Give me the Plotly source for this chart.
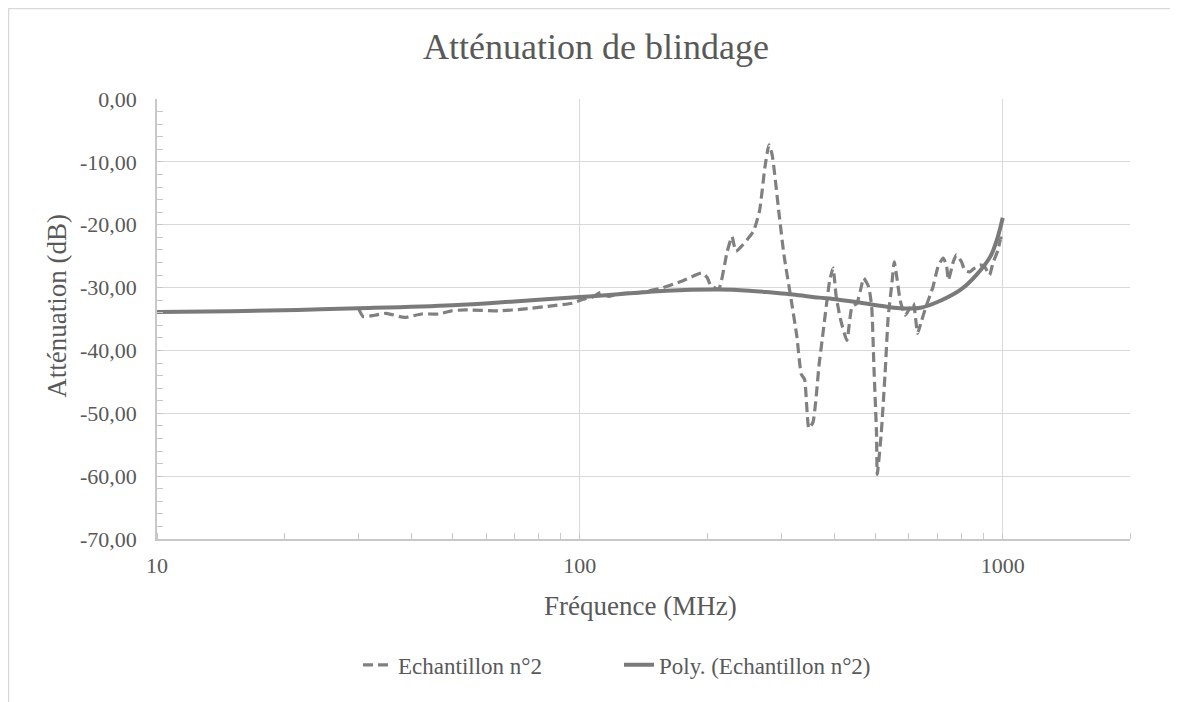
import plotly.graph_objects as go

# Measured series (Echantillon n°2)
freq_meas = [30.0, 30.7, 32.7, 34.8, 38.5, 42.2, 46.3, 49.7, 53.5, 64.2, 74.3, 85.9, 95.9,
             101.3, 107, 112, 117, 123, 138, 153.6, 174, 194, 200, 204, 213, 223, 229, 234,
             257, 266, 274, 280, 285, 296, 304, 316, 326, 334, 340, 348, 356, 368, 374, 390,
             397, 404, 414, 428, 440, 452, 461, 469, 482, 490, 496, 503, 505, 516, 527, 536,
             547, 554, 563, 572, 588, 605, 615, 629, 640, 658, 684, 703, 723, 736, 744, 764,
             777, 799, 813, 835, 858, 882, 906, 931, 948, 975, 990, 1000]
att_meas = [-33.4, -34.6, -34.4, -34.1, -34.75, -34.2, -34.2, -33.7, -33.55, -33.7, -33.4, -32.9, -32.5,
            -31.9, -31.5, -30.8, -31.4, -31.0, -30.8, -30.2, -29.0, -27.7, -28.4, -29.7, -30.2, -24.3, -21.9, -24.2,
            -21.1, -17.8, -10.8, -7.3, -8.9, -18.4, -24.9, -31.9, -37.8, -43.8, -44.6, -52.4, -51.4, -42.2, -38.4, -28.8,
            -26.9, -31.5, -35.2, -38.4, -33.1, -32.5, -30.4, -28.5, -29.9, -33.1, -42.7, -53.3, -59.7, -53.3, -43.7, -34.7,
            -29.3, -25.9, -28.8, -32.0, -34.4, -33.1, -32.5, -37.3, -35.7, -33.1, -29.9, -26.7, -25.3, -26.4, -28.8, -25.9,
            -24.8, -25.9, -27.2, -27.5, -26.9, -26.4, -26.7, -28.0, -26.1, -24.0, -22.1, -22.9]

# Polynomial trend line (Poly. (Echantillon n°2))
freq_poly = [10, 15, 21.5, 30, 50, 70, 100, 110.7, 160, 213, 252, 285, 319, 368, 397, 450,
             513, 572, 640, 712, 797, 869, 936, 973, 1000]
att_poly = [-33.9, -33.75, -33.55, -33.3, -32.8, -32.2, -31.5, -31.3, -30.5, -30.3, -30.5, -30.8, -31.1,
            -31.6, -31.8, -32.3, -32.9, -33.3, -33.2, -32.1, -30.3, -27.9, -25.0, -22.0, -18.9]

y_tickvals = [0, -10, -20, -30, -40, -50, -60, -70]
y_ticktext = ["0,00", "-10,00", "-20,00", "-30,00", "-40,00", "-50,00", "-60,00", "-70,00"]
x_tickvals = [10, 100, 1000]
x_ticktext = ["10", "100", "1000"]

FONT = "Liberation Serif, Times New Roman, DejaVu Serif, serif"
TXT = "#595959"
GRID = "#d9d9d9"
AXIS = "#c8c8c8"
LINE = "#808080"

fig = go.Figure()
fig.add_trace(go.Scatter(
    x=freq_meas, y=att_meas, mode="lines", name="Echantillon n°2",
    line=dict(color=LINE, width=3.2, dash="10px,5px", shape="spline", smoothing=0.5),
))
fig.add_trace(go.Scatter(
    x=freq_poly, y=att_poly, mode="lines", name="Poly. (Echantillon n°2)",
    line=dict(color="#7a7a7a", width=4, shape="spline", smoothing=1.0),
))

fig.update_layout(
    width=1178, height=702,
    paper_bgcolor="white", plot_bgcolor="white",
    margin=dict(l=149, r=56, t=91, b=171),
    font=dict(family=FONT, color=TXT, size=22),
    showlegend=True,
    legend=dict(orientation="h", x=0.2066, xanchor="left", y=-0.286, yanchor="middle",
                font=dict(family=FONT, size=23, color=TXT), entrywidth=216,
                bgcolor="rgba(0,0,0,0)", borderwidth=0),
    shapes=[dict(type="rect", xref="paper", yref="paper",
                 x0=-0.1526, x1=1.1, y0=-0.5, y1=1.2057,
                 line=dict(color=GRID, width=1.5), fillcolor="rgba(0,0,0,0)", layer="below")],
    annotations=[
        dict(text="Atténuation de blindage", xref="paper", yref="paper", x=0.4512, y=1.118,
             xanchor="center", yanchor="middle", showarrow=False,
             font=dict(family=FONT, size=36, color=TXT)),
        dict(text="Fréquence (MHz)", xref="paper", yref="paper", x=0.4974, y=-0.152,
             xanchor="center", yanchor="middle", showarrow=False,
             font=dict(family=FONT, size=27, color=TXT)),
        dict(text="Atténuation (dB)", xref="paper", yref="paper", x=-0.1028, y=0.53,
             xanchor="center", yanchor="middle", showarrow=False, textangle=-90,
             font=dict(family=FONT, size=27, color=TXT)),
    ],
)

fig.update_xaxes(
    type="log", range=[1, 3.30103],
    tickvals=x_tickvals, ticktext=x_ticktext,
    showgrid=True, gridcolor=GRID, gridwidth=1.2,
    showline=True, linecolor=AXIS, linewidth=1.5,
    ticks="", ticklabelstandoff=6, tickfont=dict(family=FONT, size=22, color=TXT),
    minor=dict(dtick="D1", ticks="inside", ticklen=6, tickcolor=AXIS, showgrid=False),
    zeroline=False,
)
fig.update_yaxes(
    range=[-70, 0],
    tickvals=y_tickvals, ticktext=y_ticktext,
    showgrid=True, gridcolor=GRID, gridwidth=1.2,
    showline=True, linecolor=AXIS, linewidth=1.5,
    ticks="inside", ticklen=6, tickcolor=AXIS, ticklabelstandoff=14,
    tickfont=dict(family=FONT, size=22, color=TXT),
    minor=dict(dtick=2, ticks="inside", ticklen=6, tickcolor=AXIS, showgrid=False),
    zeroline=False,
)

fig.write_html("out.html")
